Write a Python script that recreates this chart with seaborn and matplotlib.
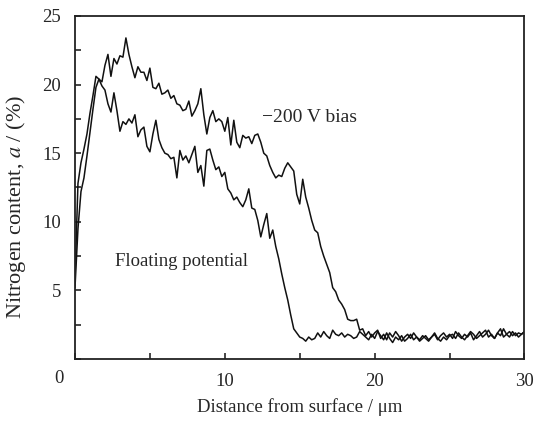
import numpy as np
import pandas as pd
import seaborn as sns
import matplotlib.pyplot as plt

# depth grid, um
depth = [
    0.0, 0.2, 0.4, 0.6, 0.8, 1.0, 1.2, 1.4, 1.6, 1.8, 2.0, 2.2, 2.4, 2.6, 2.8,
    3.0, 3.2, 3.4, 3.6, 3.8, 4.0, 4.2, 4.4, 4.6, 4.8, 5.0, 5.2, 5.4, 5.6, 5.8,
    6.0, 6.2, 6.4, 6.6, 6.8, 7.0, 7.2, 7.4, 7.6, 7.8, 8.0, 8.2, 8.4, 8.6, 8.8,
    9.0, 9.2, 9.4, 9.6, 9.8, 10.0, 10.2, 10.4, 10.6, 10.8, 11.0, 11.2, 11.4, 11.6, 11.8,
    12.0, 12.2, 12.4, 12.6, 12.8, 13.0, 13.2, 13.4, 13.6, 13.8, 14.0, 14.2, 14.4, 14.6, 14.8,
    15.0, 15.2, 15.4, 15.6, 15.8, 16.0, 16.2, 16.4, 16.6, 16.8, 17.0, 17.2, 17.4, 17.6, 17.8,
    18.0, 18.2, 18.4, 18.6, 18.8, 19.0, 19.2, 19.4, 19.6, 19.8, 20.0, 20.2, 20.4, 20.6, 20.8,
    21.0, 21.2, 21.4, 21.6, 21.8, 22.0, 22.2, 22.4, 22.6, 22.8, 23.0, 23.2, 23.4, 23.6, 23.8,
    24.0, 24.2, 24.4, 24.6, 24.8, 25.0, 25.2, 25.4, 25.6, 25.8, 26.0, 26.2, 26.4, 26.6, 26.8,
    27.0, 27.2, 27.4, 27.6, 27.8, 28.0, 28.2, 28.4, 28.6, 28.8, 29.0, 29.2, 29.4, 29.6, 29.8,
    30.0,
]

# -200 V bias, N content %
bias_n = [
    5.8, 12.8, 14.3, 15.3, 16.4, 17.9, 19.2, 20.6, 20.4, 20.2, 21.4, 22.2, 20.6, 21.9, 21.5,
    22.1, 22.0, 23.4, 22.2, 21.3, 20.5, 21.3, 20.9, 20.9, 20.3, 21.2, 19.8, 19.7, 20.1, 19.3,
    19.4, 19.6, 19.0, 19.2, 18.6, 18.5, 18.1, 18.2, 18.8, 17.7, 18.1, 18.6, 19.7, 17.8, 16.4,
    17.6, 18.1, 17.3, 17.5, 17.3, 16.6, 17.6, 15.6, 17.4, 15.8, 15.4, 16.3, 16.1, 16.2, 15.7,
    16.3, 16.4, 15.8, 15.0, 14.8, 14.1, 13.6, 13.2, 13.4, 13.3, 13.9, 14.3, 14.0, 13.7, 12.0,
    11.3, 13.1, 11.8, 11.0, 10.1, 9.4, 9.2, 8.2, 7.5, 6.9, 6.3, 5.2, 4.9, 4.3, 4.0,
    3.6, 2.9, 2.8, 2.8, 2.9, 2.1, 2.2, 1.7, 2.0, 1.6, 1.9, 2.1, 1.5, 1.8, 1.4,
    1.9, 1.6, 2.0, 1.7, 1.3, 1.6, 1.8, 1.5, 1.9, 1.6, 1.4, 1.7, 1.5, 1.3, 1.6,
    1.8, 1.4, 1.7, 1.9, 1.6, 1.8, 1.5, 2.0, 1.7, 1.5, 1.8, 1.6, 1.9, 1.4, 1.7,
    2.0, 1.6, 1.8, 2.1, 1.7, 1.5, 1.9, 2.2, 1.6, 1.8, 2.0, 1.7, 1.9, 1.6, 1.8,
    2.0,
]

# floating potential, N content %
float_n = [
    5.2, 9.5, 12.2, 13.2, 14.8, 16.5, 18.2, 19.8, 20.4, 19.9, 19.6, 18.6, 18.0, 19.4, 18.1,
    16.6, 17.3, 17.1, 17.5, 17.2, 17.8, 16.2, 16.7, 16.9, 15.5, 15.1, 16.4, 17.4, 16.0, 15.4,
    15.0, 14.9, 14.6, 14.7, 13.2, 15.2, 14.5, 14.8, 14.3, 14.9, 15.5, 13.6, 14.1, 12.6, 15.2,
    15.3, 14.5, 13.8, 14.0, 13.3, 13.6, 12.4, 12.1, 11.6, 11.8, 11.4, 11.1, 11.6, 12.4, 11.0,
    10.9, 10.1, 8.9, 9.8, 10.6, 8.8, 9.4, 8.2, 7.3, 6.2, 5.2, 4.3, 3.2, 2.2, 1.9,
    1.6, 1.5, 1.3, 1.6, 1.4, 1.5, 1.9, 1.6, 2.0, 1.7, 1.5, 2.1, 1.8, 1.7, 1.9,
    1.6, 1.8, 1.7, 1.5, 1.6, 2.0, 1.8, 1.6, 1.4, 1.8, 1.5, 2.0, 1.7, 1.4, 1.9,
    1.5, 1.2, 1.6, 1.4, 1.7, 1.3, 1.5, 1.8, 1.4, 1.6, 1.3, 1.5, 1.7, 1.4, 1.6,
    1.9, 1.5, 1.3, 1.6, 1.4, 1.7, 1.8, 1.5, 1.9, 1.6, 1.4, 1.7, 2.0, 1.8, 1.5,
    1.7, 1.9, 2.1, 1.6, 1.8, 1.5, 1.9, 1.7, 2.2, 1.8, 1.6, 2.0, 1.7, 1.9, 1.8,
    2.0,
]

assert len(depth) == len(bias_n) == len(float_n)

df = pd.DataFrame({
    "depth": depth * 2,
    "N": bias_n + float_n,
    "run": ["bias"] * len(depth) + ["float"] * len(depth),
})

sns.set_style("ticks")
plt.rcParams["font.family"] = ["Liberation Serif", "DejaVu Serif"]
plt.rcParams["mathtext.fontset"] = "stix"

fig = plt.figure(figsize=(5.34, 4.24), dpi=100)
ax = fig.add_axes([0.1404, 0.1533, 0.8418, 0.809])

sns.lineplot(data=df, x="depth", y="N", units="run", estimator=None,
             color="#111111", linewidth=1.1, ax=ax, legend=False)

ax.set_xlim(0, 30)
ax.set_ylim(0, 25)
ax.set_xticks([0, 10, 20, 30])
ax.set_xticklabels(["", "10", "20", "30"])
ax.set_xticks([5, 15, 25], minor=True)
ax.set_yticks([0, 5, 10, 15, 20, 25])
ax.set_yticklabels(["", "5", "10", "15", "20", "25"])
ax.set_yticks([2.5, 7.5, 12.5, 17.5, 22.5], minor=True)
ax.tick_params(which="both", direction="in", length=4, width=1.2,
               labelsize=13.5, pad=10, top=False, right=False)
for s in ax.spines.values():
    s.set_linewidth(1.3)
    s.set_color("#222222")

ax.text(-1.1, -1.4, "0", ha="center", va="center", fontsize=13.5, clip_on=False)
ax.text(12.45, 17.6, "\u2212200 V bias", ha="left", va="center", fontsize=14)
ax.text(2.66, 7.1, "Floating potential", ha="left", va="center", fontsize=13.5)

ax.set_xlabel("Distance from surface / \u03bcm", fontsize=13.5, labelpad=6)
ax.set_ylabel("Nitrogen content, $a$ / (%)", fontsize=16)
ax.yaxis.set_label_coords(-0.104, 0.443)

fig.savefig("out.png", dpi=100)
